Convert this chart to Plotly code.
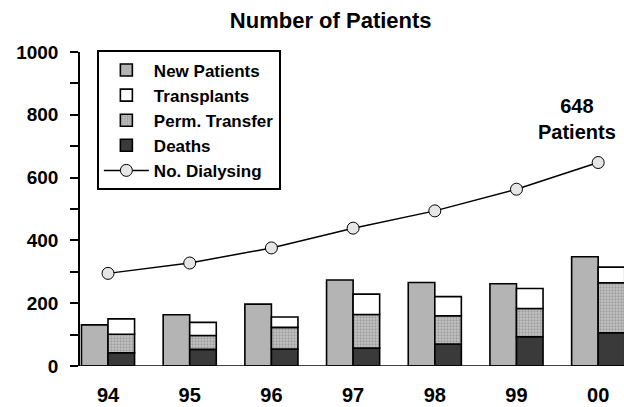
import plotly.graph_objects as go

years = ["94", "95", "96", "97", "98", "99", "00"]
new_patients = [131, 163, 197, 274, 266, 262, 348]
deaths = [42, 53, 54, 57, 70, 93, 106]
perm_transfer = [59, 44, 69, 107, 90, 90, 159]
transplants = [49, 42, 33, 65, 61, 64, 50]
dialysing = [295, 328, 376, 439, 494, 563, 648]

xpos = list(range(len(years)))
bar_w = 0.325
FONT = "Liberation Sans, Arial, sans-serif"
edge = dict(color="black", width=1.6)

# running bases for the stacked outcome bar
base_perm = deaths
base_trans = [d + p for d, p in zip(deaths, perm_transfer)]

fig = go.Figure()
fig.add_trace(go.Bar(
    x=xpos, y=new_patients, name="New Patients", width=bar_w, offset=-bar_w,
    marker=dict(color="#b4b4b4", line=edge), legendrank=1))
fig.add_trace(go.Bar(
    x=xpos, y=deaths, name="Deaths", width=bar_w, offset=0,
    marker=dict(color="#3a3a3a", line=edge), legendrank=4))
fig.add_trace(go.Bar(
    x=xpos, y=perm_transfer, base=base_perm, name="Perm. Transfer", width=bar_w, offset=0,
    marker=dict(color="#bdbdbd", line=edge,
                pattern=dict(shape=".", fgcolor="#777777", bgcolor="#c4c4c4",
                             size=3, solidity=0.45)),
    legendrank=3))
fig.add_trace(go.Bar(
    x=xpos, y=transplants, base=base_trans, name="Transplants", width=bar_w, offset=0,
    marker=dict(color="white", line=edge), legendrank=2))
fig.add_trace(go.Scatter(
    x=xpos, y=dialysing, name="No. Dialysing", mode="lines+markers",
    line=dict(color="black", width=1.5),
    marker=dict(symbol="circle", size=12, color="#e6e6e6",
                line=dict(color="black", width=1)),
    legendrank=5))

fig.add_annotation(
    x=xpos[-1], y=dialysing[-1], yshift=44, xshift=-21, showarrow=False,
    text=f"{dialysing[-1]}<br>Patients",
    font=dict(family=FONT, size=20, color="black", weight="bold"))

fig.update_layout(
    width=624, height=407,
    margin=dict(l=80, r=0, t=52, b=41, autoexpand=False),
    paper_bgcolor="white", plot_bgcolor="white",
    barmode="overlay",
    font=dict(family=FONT, color="black", weight="bold"),
    title=dict(text="Number of Patients", x=0.53, xanchor="center", y=0.95, yanchor="middle",
               font=dict(family=FONT, size=22, color="black", weight="bold"),
               automargin=False),
    showlegend=True,
    legend=dict(x=0.031, y=1.005, xanchor="left", yanchor="top",
                bordercolor="black", borderwidth=2, bgcolor="white",
                itemwidth=45,
                font=dict(family=FONT, size=17, color="black", weight="bold"),
                traceorder="normal"),
    xaxis=dict(range=[-0.343, 6.316], tickvals=xpos, ticktext=years,
               showgrid=False, zeroline=False, showline=False, ticks="",
               ticklabelstandoff=15, automargin=False,
               tickfont=dict(family=FONT, size=20, color="black", weight="bold")),
    yaxis=dict(range=[0, 1000], dtick=200, showgrid=False, zeroline=False,
               showline=True, linecolor="black", linewidth=1.5,
               ticks="outside", ticklen=8, tickwidth=1.5, tickcolor="black",
               minor=dict(dtick=100, ticks="outside", ticklen=8, tickwidth=1.5, tickcolor="black"),
               ticklabelstandoff=8, automargin=False,
               tickfont=dict(family=FONT, size=19, color="black", weight="bold")),
)
# baseline under the bars
fig.add_shape(type="line", xref="paper", yref="y", x0=-0.015, x1=1, y0=0, y1=0,
              line=dict(color="black", width=1.5))

fig.write_html("out.html")
